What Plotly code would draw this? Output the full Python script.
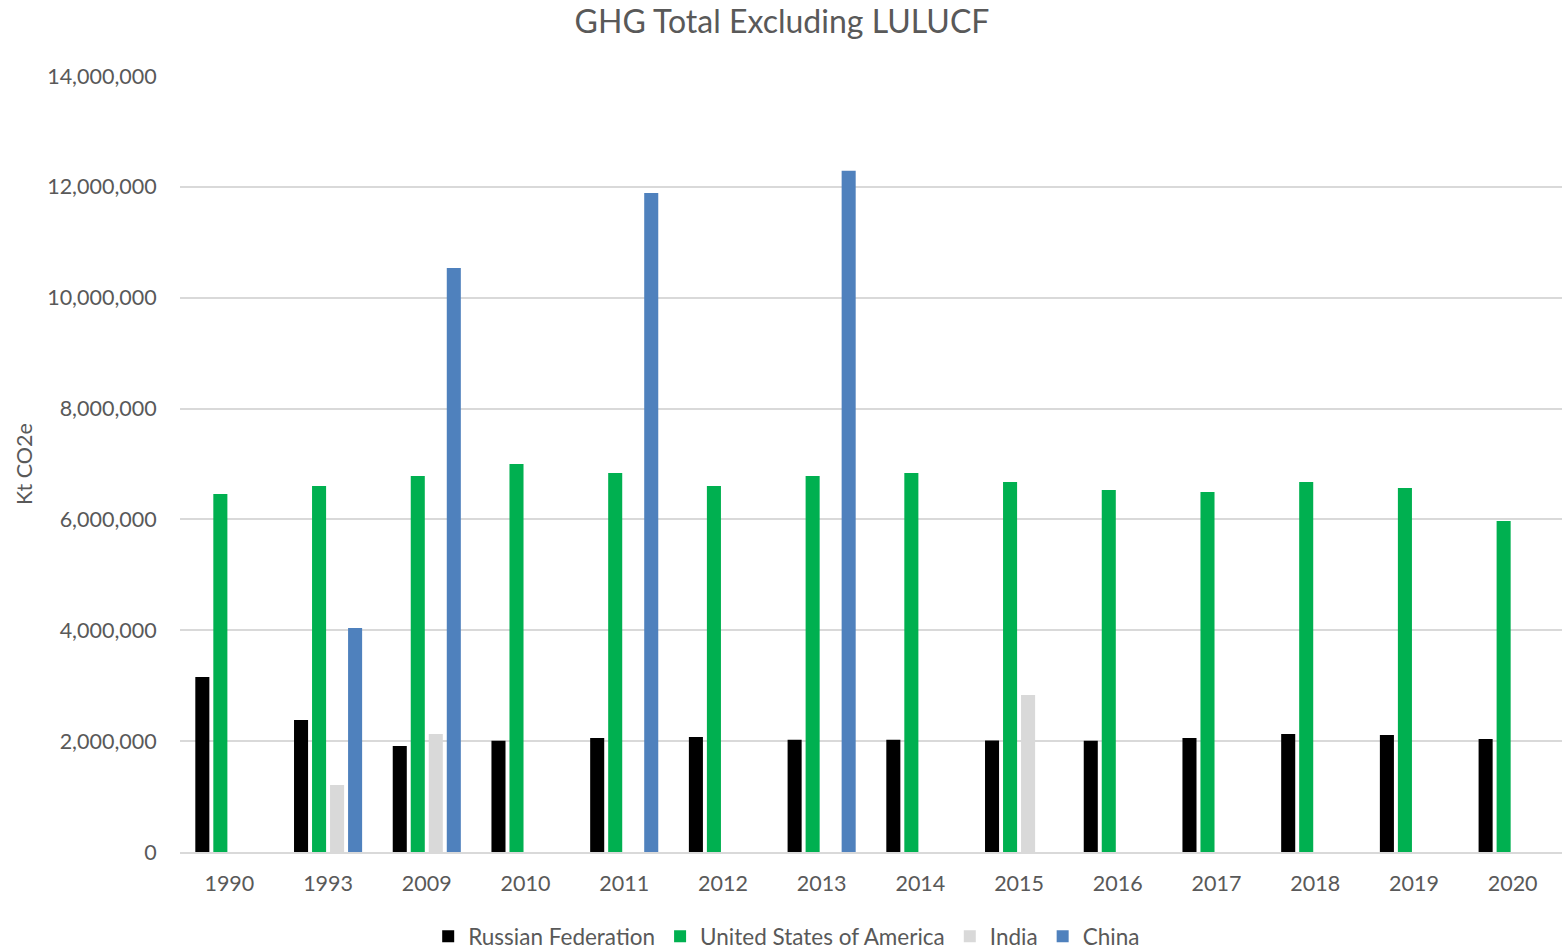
import plotly.graph_objects as go

years = ["1990", "1993", "2009", "2010", "2011", "2012", "2013", "2014", "2015", "2016", "2017", "2018", "2019", "2020"]
russia = [3157000, 2381000, 1912000, 2005000, 2057000, 2075000, 2025000, 2025000, 2010000, 2005000, 2057000, 2129000, 2111000, 2039000]
usa = [6459000, 6603000, 6783000, 7000000, 6837000, 6603000, 6783000, 6837000, 6675000, 6531000, 6495000, 6675000, 6567000, 5971000]
india = [None, 1209000, 2129000, None, None, None, None, None, 2832000, None, None, None, None, None]
china = [None, 4041000, 10536000, None, 11889000, None, 12290000, None, None, None, None, None, None, None]

series = [
    ("Russian Federation", russia, "#000000"),
    ("United States of America", usa, "#00b050"),
    ("India", india, "#d9d9d9"),
    ("China", china, "#4f81bd"),
]

font_family = "Lato, 'Open Sans', sans-serif"
fig = go.Figure()
for name, vals, color in series:
    fig.add_trace(go.Bar(x=years, y=vals, name=name, marker=dict(color=color, line=dict(width=0))))

fig.update_layout(
    width=1564, height=950,
    barmode="group", bargap=0.27, bargroupgap=0.22,
    paper_bgcolor="white", plot_bgcolor="white",
    margin=dict(l=180, r=2, t=76, b=98, autoexpand=False),
    font=dict(family=font_family, color="#595959", size=21),
    title=dict(text="GHG Total Excluding LULUCF", x=0.5, xanchor="center", y=0.977, yanchor="middle",
               font=dict(size=32, color="#595959", family=font_family)),
    legend=dict(orientation="h", xref="container", x=0.503, xanchor="center", yref="container", y=0.014, yanchor="middle",
                font=dict(size=22.5, color="#595959"), traceorder="normal", itemwidth=30),
    xaxis=dict(type="category", showgrid=False, showline=True, linecolor="#d9d9d9", linewidth=2,
               ticks="outside", ticklen=11, tickcolor="white", tickfont=dict(size=21.5, color="#595959")),
    yaxis=dict(range=[0, 14000000], tickvals=list(range(0, 14000001, 2000000)), tickformat=",d",
               showgrid=True, gridcolor="#d9d9d9", gridwidth=2, zeroline=False,
               ticks="outside", ticklen=18, tickcolor="white",
               title=dict(text="Kt CO2e", font=dict(size=21.5, color="#595959"), standoff=8),
               tickfont=dict(size=21.5, color="#595959")),
)
fig.write_html("out.html")
